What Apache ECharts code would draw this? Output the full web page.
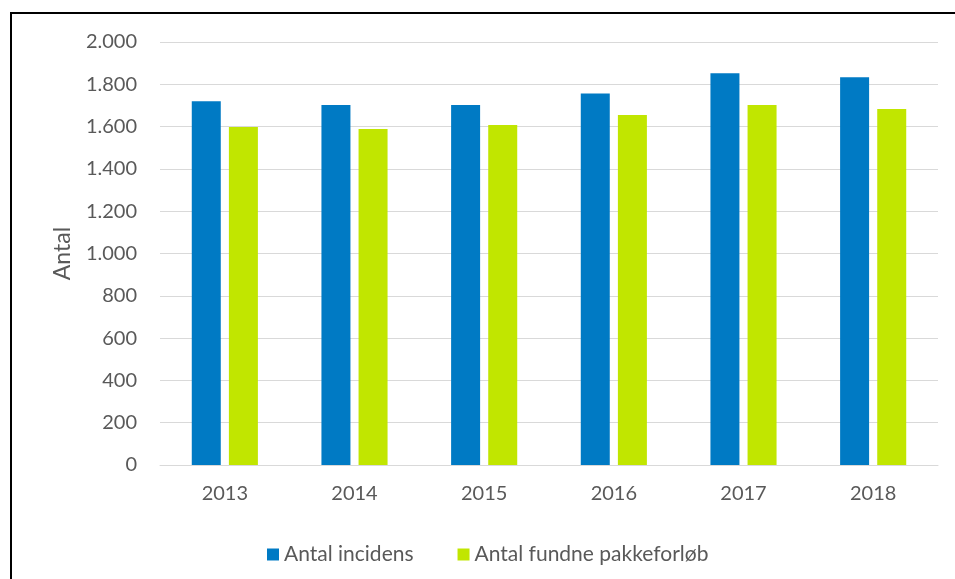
<!DOCTYPE html>
<html lang="da">
<head>
    <meta charset="UTF-8">
    <title>Antal</title>
    <style>
        body { margin: 0; background: #fff; }
        #frame { position: absolute; left: 10px; top: 12px; width: 960px; height: 580px; border-left: 2px solid #000; border-top: 2px solid #000; box-sizing: border-box; }
        #main { position: absolute; left: 0; top: 0; width: 955px; height: 579px; }
    </style>
</head>
<body>
<div id="frame"></div>
<div id="main"></div>
<script src="https://cdn.jsdelivr.net/npm/echarts@6/dist/echarts.min.js"></script>
<script>
    var years = ['2013', '2014', '2015', '2016', '2017', '2018'];
    var incidens = [1720, 1702, 1702, 1757, 1852, 1833];
    var pakkeforloeb = [1598, 1589, 1608, 1655, 1702, 1683];

    var font = 'Lato, "Open Sans", sans-serif';
    var myChart = echarts.init(document.getElementById('main'));
    myChart.setOption({
        animation: false,
        textStyle: { fontFamily: font },
        grid: { left: 160, right: 17, top: 42, bottom: 114 },
        legend: {
            left: 262,
            top: 539,
            itemWidth: 12,
            itemHeight: 12,
            itemGap: 44,
            icon: 'rect',
            textStyle: { color: '#595959', fontSize: 21, fontFamily: font },
            data: ['Antal incidens', 'Antal fundne pakkeforløb']
        },
        xAxis: {
            type: 'category',
            data: years,
            axisLine: { lineStyle: { color: '#d9d9d9', width: 1 } },
            axisTick: { show: false },
            axisLabel: { color: '#595959', fontSize: 20, margin: 19 }
        },
        yAxis: {
            type: 'value',
            min: 0,
            max: 2000,
            interval: 200,
            name: 'Antal',
            nameLocation: 'middle',
            nameGap: 86,
            nameTextStyle: { color: '#595959', fontSize: 23 },
            axisLine: { show: false },
            axisTick: { show: false },
            splitLine: { lineStyle: { color: '#d9d9d9', width: 1 } },
            axisLabel: {
                color: '#595959',
                fontSize: 20,
                margin: 23,
                formatter: function (v) {
                    return v.toString().replace(/\B(?=(\d{3})+(?!\d))/g, '.');
                }
            }
        },
        series: [
            {
                name: 'Antal incidens',
                type: 'bar',
                data: incidens,
                barWidth: 29,
                barGap: '28%',
                itemStyle: { color: '#007ac4' }
            },
            {
                name: 'Antal fundne pakkeforløb',
                type: 'bar',
                data: pakkeforloeb,
                barWidth: 29,
                itemStyle: { color: '#c1e600' }
            }
        ]
    });
</script>
</body>
</html>
